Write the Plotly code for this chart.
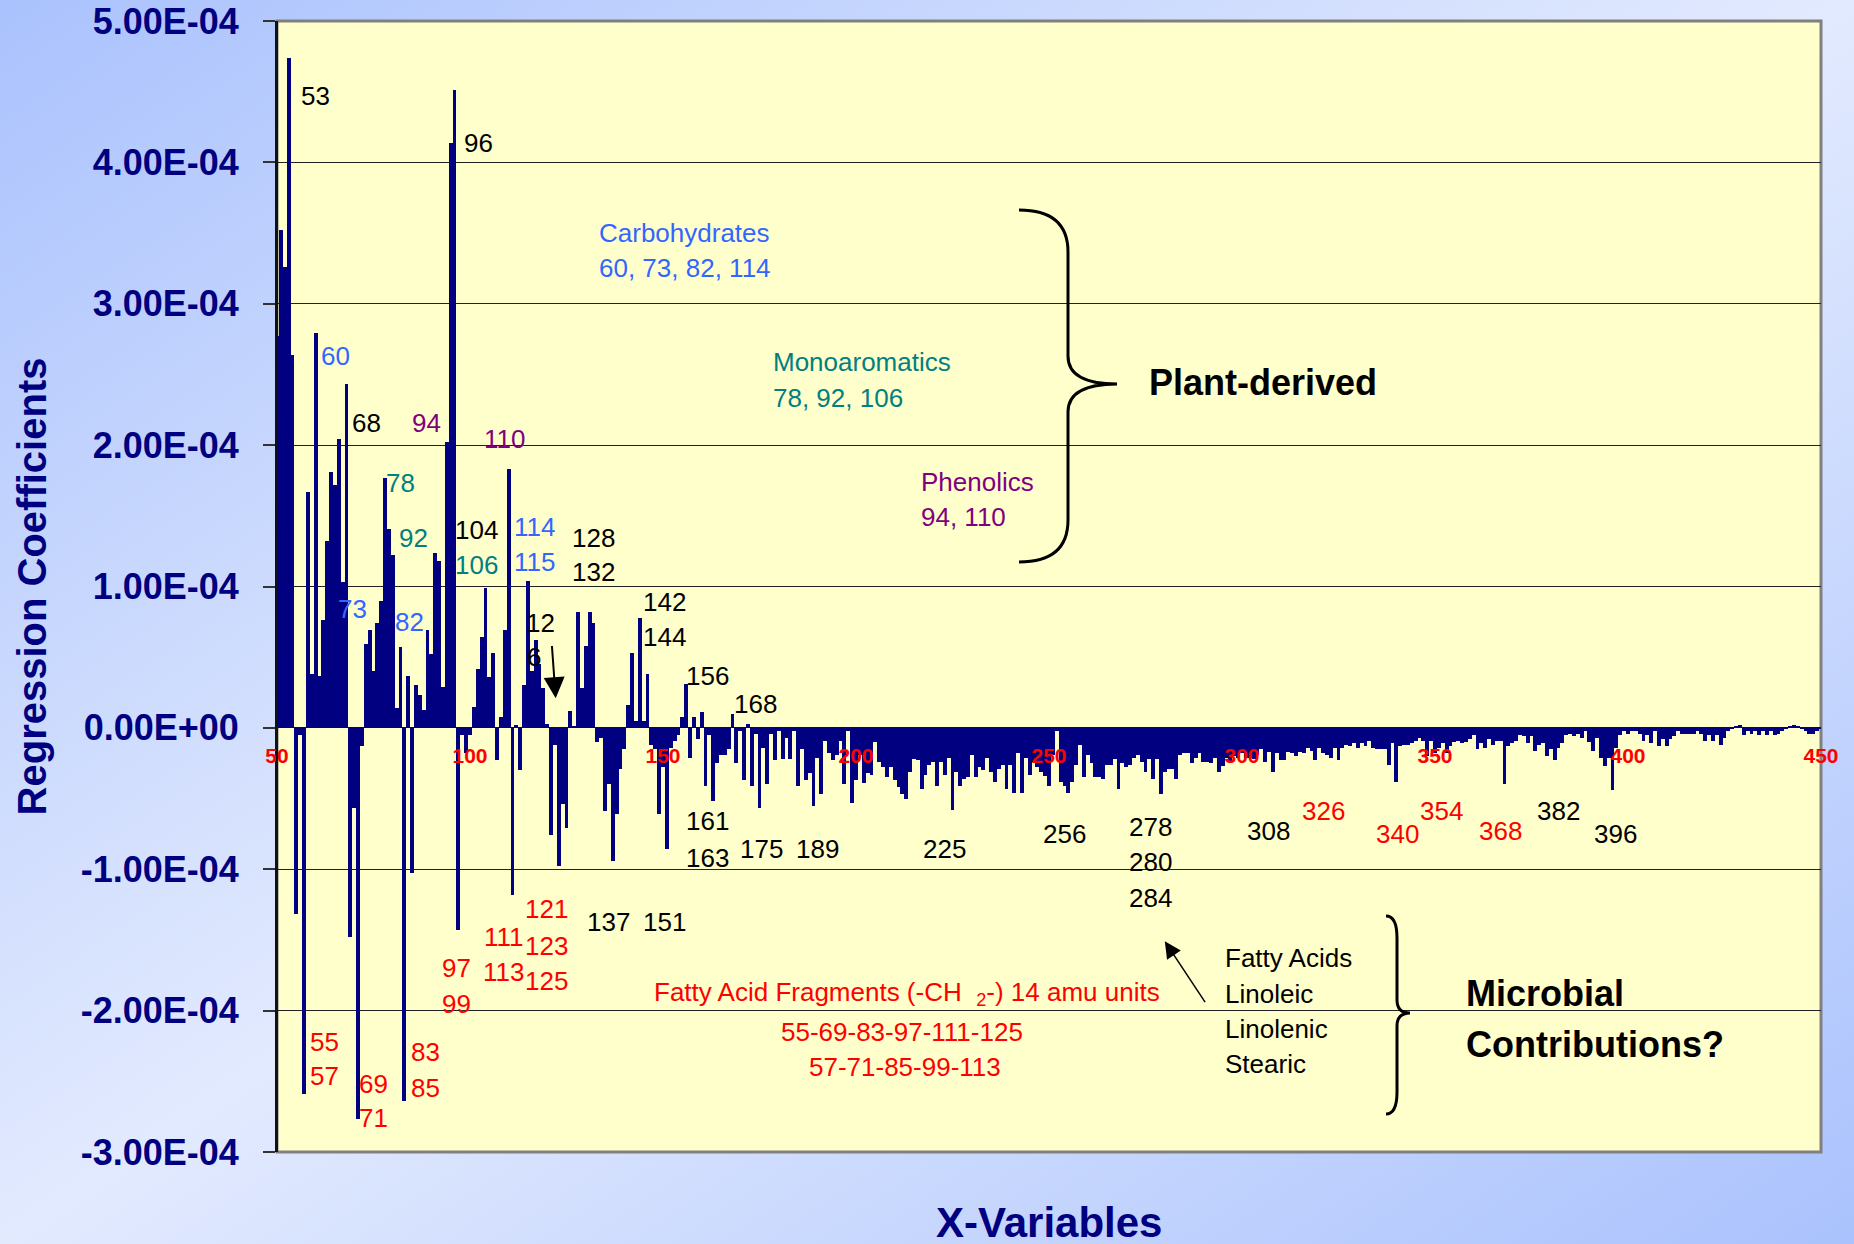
import base64
import plotly.graph_objects as go

# ---------------- data ----------------
mz = list(range(50, 451))
# regression coefficients in units of 1e-4, m/z 50 .. 450
coef_e4 = [
    2.77, 3.52, 3.26, 4.74, 2.64, -1.32, -0.05, -2.59, 1.67, 0.38,      # 50-59
    2.79, 0.37, 0.76, 1.32, 1.81, 1.72, 2.04, 1.03, 2.43, -1.48,        # 60-69
    -0.57, -2.77, -0.13, 0.59, 0.69, 0.40, 0.74, 0.90, 1.77, 1.41,      # 70-79
    1.22, 0.14, 0.57, -2.64, 0.37, -1.03, 0.30, 0.23, 0.13, 0.69,       # 80-89
    0.52, 1.24, 1.18, 0.29, 2.02, 4.14, 4.51, -1.43, -0.05, -0.18,      # 90-99
    -0.05, 0.15, 0.42, 0.64, 0.99, 0.36, 0.53, -0.23, 0.08, 0.69,       # 100-109
    1.83, -1.18, 0.02, -0.30, 0.30, 1.04, 0.40, 0.62, 0.45, 0.28,       # 110-119
    0.03, -0.76, -0.12, -0.98, -0.54, -0.71, 0.12, 0.01, 0.82, 0.28,    # 120-129
    0.58, 0.82, 0.74, -0.10, -0.07, -0.59, -0.40, -0.94, -0.61, -0.29,  # 130-139
    -0.15, 0.16, 0.53, 0.05, 0.78, 0.05, 0.38, -0.12, -0.15, -0.61,     # 140-149
    -0.28, -0.86, -0.14, -0.09, -0.05, 0.08, 0.31, -0.21, 0.08, -0.08,  # 150-159
    0.11, -0.41, -0.05, -0.52, -0.25, -0.19, -0.19, -0.15, 0.10, -0.25, # 160-169
    -0.02, -0.37, 0.03, -0.41, -0.04, -0.57, -0.14, -0.40, -0.04, -0.23,  # 170-179
    -0.02, -0.22, -0.07, -0.22, -0.02, -0.41, -0.15, -0.37, -0.32, -0.55, # 180-189
    -0.21, -0.47, -0.09, -0.18, -0.23, -0.19, -0.09, -0.40, -0.02, -0.53, # 190-199
    -0.37, -0.19, -0.39, -0.32, -0.33, -0.10, -0.24, -0.28, -0.35, -0.28, # 200-209
    -0.37, -0.42, -0.47, -0.50, -0.31, -0.22, -0.23, -0.43, -0.33, -0.26, # 210-219
    -0.24, -0.41, -0.24, -0.33, -0.21, -0.58, -0.31, -0.41, -0.36, -0.35, # 220-229
    -0.19, -0.35, -0.28, -0.30, -0.21, -0.31, -0.38, -0.29, -0.26, -0.43, # 230-239
    -0.26, -0.46, -0.18, -0.46, -0.21, -0.33, -0.24, -0.28, -0.31, -0.34, # 240-249
    -0.41, -0.19, -0.02, -0.38, -0.41, -0.46, -0.38, -0.26, -0.12, -0.35, # 250-259
    -0.19, -0.25, -0.35, -0.35, -0.36, -0.26, -0.26, -0.22, -0.43, -0.25, # 260-269
    -0.28, -0.26, -0.21, -0.19, -0.24, -0.31, -0.22, -0.36, -0.22, -0.47, # 270-279
    -0.31, -0.29, -0.29, -0.36, -0.19, -0.18, -0.18, -0.25, -0.21, -0.18, # 280-289
    -0.24, -0.24, -0.25, -0.21, -0.31, -0.27, -0.21, -0.24, -0.20, -0.21, # 290-299
    -0.18, -0.21, -0.21, -0.22, -0.19, -0.15, -0.24, -0.17, -0.31, -0.18, # 300-309
    -0.23, -0.23, -0.17, -0.18, -0.20, -0.17, -0.18, -0.14, -0.16, -0.23, # 310-319
    -0.14, -0.18, -0.19, -0.21, -0.14, -0.23, -0.14, -0.12, -0.13, -0.11, # 320-329
    -0.14, -0.11, -0.13, -0.09, -0.14, -0.15, -0.15, -0.15, -0.26, -0.11, # 330-339
    -0.38, -0.13, -0.12, -0.12, -0.11, -0.09, -0.07, -0.09, -0.20, -0.09, # 340-349
    -0.18, -0.14, -0.11, -0.18, -0.13, -0.10, -0.09, -0.11, -0.10, -0.08, # 350-359
    -0.05, -0.15, -0.11, -0.14, -0.08, -0.12, -0.09, -0.09, -0.40, -0.13, # 360-369
    -0.11, -0.09, -0.05, -0.06, -0.11, -0.06, -0.16, -0.12, -0.11, -0.20, # 370-379
    -0.15, -0.23, -0.14, -0.11, -0.05, -0.04, -0.06, -0.04, -0.07, -0.02, # 380-389
    -0.10, -0.16, -0.07, -0.21, -0.27, -0.21, -0.44, -0.14, -0.05, -0.02, # 390-399
    -0.04, -0.02, -0.02, -0.04, -0.09, -0.05, -0.11, -0.02, -0.13, -0.08, # 400-409
    -0.13, -0.08, -0.06, -0.02, -0.04, -0.04, -0.04, -0.04, -0.02, -0.04, # 410-419
    -0.09, -0.05, -0.09, -0.05, -0.12, -0.07, -0.02, -0.01, 0.01, 0.02,   # 420-429
    -0.05, -0.02, -0.04, -0.02, -0.05, -0.02, -0.05, -0.02, -0.05, -0.04, # 430-439
    -0.02, -0.01, 0.01, 0.02, 0.01, -0.01, -0.02, -0.04, -0.04, -0.02,    # 440-449
    -0.01,                                                                # 450
]
coef = [v * 1e-4 for v in coef_e4]

x_ticks = [50, 100, 150, 200, 250, 300, 350, 400, 450]
y_ticks = [-3e-4, -2e-4, -1e-4, 0, 1e-4, 2e-4, 3e-4, 4e-4, 5e-4]
y_ticktext = ["-3.00E-04", "-2.00E-04", "-1.00E-04", "0.00E+00", "1.00E-04",
              "2.00E-04", "3.00E-04", "4.00E-04", "5.00E-04"]

# peak labels: (text, m/z position, coefficient position in 1e-4)
labels_black = [("53", 60.0, 4.47), ("96", 102.3, 4.14), ("68", 73.2, 2.16),
                ("104", 101.7, 1.40), ("128", 132.0, 1.34), ("132", 132.0, 1.10),
                ("142", 150.4, 0.89), ("144", 150.4, 0.64), ("156", 161.4, 0.37),
                ("168", 174.0, 0.17), ("161", 161.4, -0.66), ("163", 161.4, -0.92),
                ("175", 175.5, -0.86), ("189", 189.9, -0.86), ("225", 223.0, -0.86),
                ("256", 253.9, -0.75), ("278", 276.3, -0.70), ("280", 276.3, -0.95),
                ("284", 276.3, -1.20), ("308", 306.9, -0.73), ("382", 382.0, -0.59),
                ("396", 396.7, -0.75), ("137", 136.0, -1.37), ("151", 150.4, -1.37),
                ("12", 118.2, 0.74), ("6", 116.7, 0.50)]
labels_carb = [("60", 65.2, 2.63), ("73", 69.5, 0.84), ("82", 84.2, 0.75),
               ("114", 116.7, 1.42), ("115", 116.7, 1.17)]
labels_mono = [("78", 82.1, 1.73), ("92", 85.4, 1.34), ("106", 101.7, 1.15)]
labels_phen = [("94", 88.8, 2.16), ("110", 109.0, 2.04)]
labels_frag = [("55", 62.2, -2.22), ("57", 62.2, -2.46), ("69", 75.0, -2.52),
               ("71", 75.0, -2.76), ("83", 88.5, -2.29), ("85", 88.5, -2.55),
               ("97", 96.5, -1.70), ("99", 96.5, -1.95), ("111", 108.7, -1.48),
               ("113", 108.7, -1.73), ("121", 119.8, -1.28), ("123", 119.8, -1.54),
               ("125", 119.8, -1.79), ("326", 321.0, -0.59), ("340", 340.3, -0.75),
               ("354", 351.6, -0.59), ("368", 366.9, -0.73)]

# group notes: (text, left m/z, coefficient in 1e-4)
notes_carb = [("Carbohydrates", 132.9, 3.50), ("60, 73, 82, 114", 132.9, 3.25)]
notes_mono = [("Monoaromatics", 177.9, 2.59), ("78, 92, 106", 177.9, 2.33)]
notes_phen = [("Phenolics", 216.2, 1.74), ("94, 110", 216.2, 1.49)]
notes_fatty = [("Fatty Acids", 295.0, -1.63), ("Linoleic", 295.0, -1.88),
               ("Linolenic", 295.0, -2.13), ("Stearic", 295.0, -2.38)]
notes_frag = [("Fatty Acid Fragments (-CH\u00a0\u00a0<sub>2</sub>-) 14 amu units", 213.2, -1.88),
              ("55-69-83-97-111-125", 212.0, -2.15),
              ("57-71-85-99-113", 212.6, -2.40)]
notes_bold = [("Plant-derived", 275.4, 2.44), ("Microbial", 357.5, -1.88),
              ("Contributions?", 357.5, -2.24)]

# ---------------- geometry / style ----------------
W, H = 1854, 1244
L, R, T, B = 277, 33, 21, 92
PW, PH = W - L - R, H - T - B
FONT = "Liberation Sans, Arial, Helvetica, sans-serif"
NAVY = "#000080"


def px2data(px, py):
    return 50 + (px - L) * 400.0 / PW, 5e-4 - (py - T) * 8e-4 / PH


def brace_path(pts):
    cmds = []
    for cmd, coords in pts:
        s = []
        for (px, py) in coords:
            x, y = px2data(px, py)
            s.append(f"{x:.4f},{y:.8f}")
        cmds.append(cmd + " " + " ".join(s))
    return " ".join(cmds)


svg = f'''<svg xmlns="http://www.w3.org/2000/svg" width="{W}" height="{H}" viewBox="0 0 {W} {H}" preserveAspectRatio="none">
<defs><linearGradient id="g" x1="0" y1="0" x2="1" y2="1">
<stop offset="0" stop-color="#AAC2FD"/><stop offset="0.5" stop-color="#E2EAFE"/><stop offset="1" stop-color="#AAC2FD"/>
</linearGradient></defs>
<rect x="0" y="0" width="{W}" height="{H}" fill="url(#g)"/>
<rect x="{L}" y="{T}" width="{PW}" height="{PH}" fill="#FFFFCC"/>
</svg>'''
bg_uri = "data:image/svg+xml;base64," + base64.b64encode(svg.encode()).decode()

fig = go.Figure()
fig.add_trace(go.Bar(x=mz, y=coef, width=1.0,
                     marker=dict(color=NAVY, line=dict(width=0)),
                     hoverinfo="skip", showlegend=False))

fig.update_layout(
    width=W, height=H,
    margin=dict(l=L, r=R, t=T, b=B, autoexpand=False),
    paper_bgcolor="#C8D6FE",
    plot_bgcolor="rgba(0,0,0,0)",
    showlegend=False,
    hovermode=False,
    bargap=0,
    xaxis=dict(range=[50, 450], anchor="free", position=0.375,
               showgrid=False, zeroline=False, showline=False,
               tickmode="array", tickvals=x_ticks, ticks="",
               tickfont=dict(family=FONT, size=21, color="#FF0000", weight="bold"),
               ticklabelstandoff=13),
    yaxis=dict(range=[-3e-4, 5e-4], tickmode="array", tickvals=y_ticks,
               ticktext=y_ticktext, ticks="outside", ticklen=12, tickwidth=1.5,
               tickcolor="#333333", showline=True, linecolor="#111111", linewidth=2,
               showgrid=True, gridcolor="#222222", gridwidth=1.3,
               zeroline=True, zerolinecolor="#111111", zerolinewidth=1.3,
               tickfont=dict(family=FONT, size=36, color=NAVY, weight="bold"),
               ticklabelstandoff=17,
               title=dict(text="Regression Coefficients", standoff=22,
                          font=dict(family=FONT, size=40, color=NAVY, weight="bold"))),
    images=[dict(source=bg_uri, xref="paper", yref="paper",
                 x=-L / PW, y=1 + T / PH, sizex=W / PW, sizey=H / PH,
                 xanchor="left", yanchor="top", sizing="stretch", layer="below")],
)

# plot border
fig.add_shape(type="rect", xref="paper", yref="paper", x0=0, x1=1, y0=0, y1=1,
              line=dict(color="#808080", width=3), layer="below")
fig.add_shape(type="line", xref="paper", yref="paper", x0=0, x1=0, y0=0, y1=1,
              line=dict(color="#111111", width=2), layer="above")

# braces
brace1 = brace_path([
    ("M", [(1019, 210)]), ("Q", [(1068, 210), (1068, 252)]), ("L", [(1068, 356)]),
    ("Q", [(1068, 384), (1117, 384)]), ("Q", [(1068, 384), (1068, 412)]),
    ("L", [(1068, 520)]), ("Q", [(1068, 562), (1019, 562)])])
brace2 = brace_path([
    ("M", [(1386, 916)]), ("Q", [(1397, 916), (1397, 938)]), ("L", [(1397, 1000)]),
    ("Q", [(1397, 1013), (1410, 1013)]), ("Q", [(1397, 1013), (1397, 1026)]),
    ("L", [(1397, 1092)]), ("Q", [(1397, 1114), (1386, 1114)])])
for p in (brace1, brace2):
    fig.add_shape(type="path", xref="x", yref="y", path=p,
                  line=dict(color="black", width=3))


def add_text(text, x, y, color, size=26, bold=False, xanchor="center"):
    fig.add_annotation(x=x, y=y * 1e-4, xref="x", yref="y", text=text,
                       showarrow=False, xanchor=xanchor, yanchor="middle",
                       font=dict(family=FONT, size=size, color=color,
                                 weight="bold" if bold else "normal"))


for group, color in ((labels_black, "#000000"), (labels_carb, "#3366FF"),
                     (labels_mono, "#008080"), (labels_phen, "#800080"),
                     (labels_frag, "#FF0000")):
    for t, x, y in group:
        add_text(t, x, y, color)

for group, color in ((notes_carb, "#3366FF"), (notes_mono, "#008080"),
                     (notes_phen, "#800080"), (notes_fatty, "#000000")):
    for t, x, y in group:
        add_text(t, x, y, color, xanchor="left")
for t, x, y in notes_frag:
    add_text(t, x, y, "#FF0000")
for t, x, y in notes_bold:
    add_text(t, x, y, "#000000", size=36, bold=True, xanchor="left")

# arrows
fig.add_annotation(x=122.2, y=0.21e-4, ax=121.2, ay=0.59e-4, xref="x", yref="y",
                   axref="x", ayref="y", text="", showarrow=True, arrowhead=2,
                   arrowsize=2.1, arrowwidth=2, arrowcolor="black")
fig.add_annotation(x=280.0, y=-1.51e-4, ax=290.7, ay=-1.95e-4, xref="x", yref="y",
                   axref="x", ayref="y", text="", showarrow=True, arrowhead=2,
                   arrowsize=2.2, arrowwidth=1.5, arrowcolor="black")

# x-axis title
fig.add_annotation(x=0.5, y=-70 / PH, xref="paper", yref="paper",
                   text="<b>X-Variables</b>", showarrow=False, yanchor="middle",
                   font=dict(family=FONT, size=42, color=NAVY))

fig.write_html("out.html")
